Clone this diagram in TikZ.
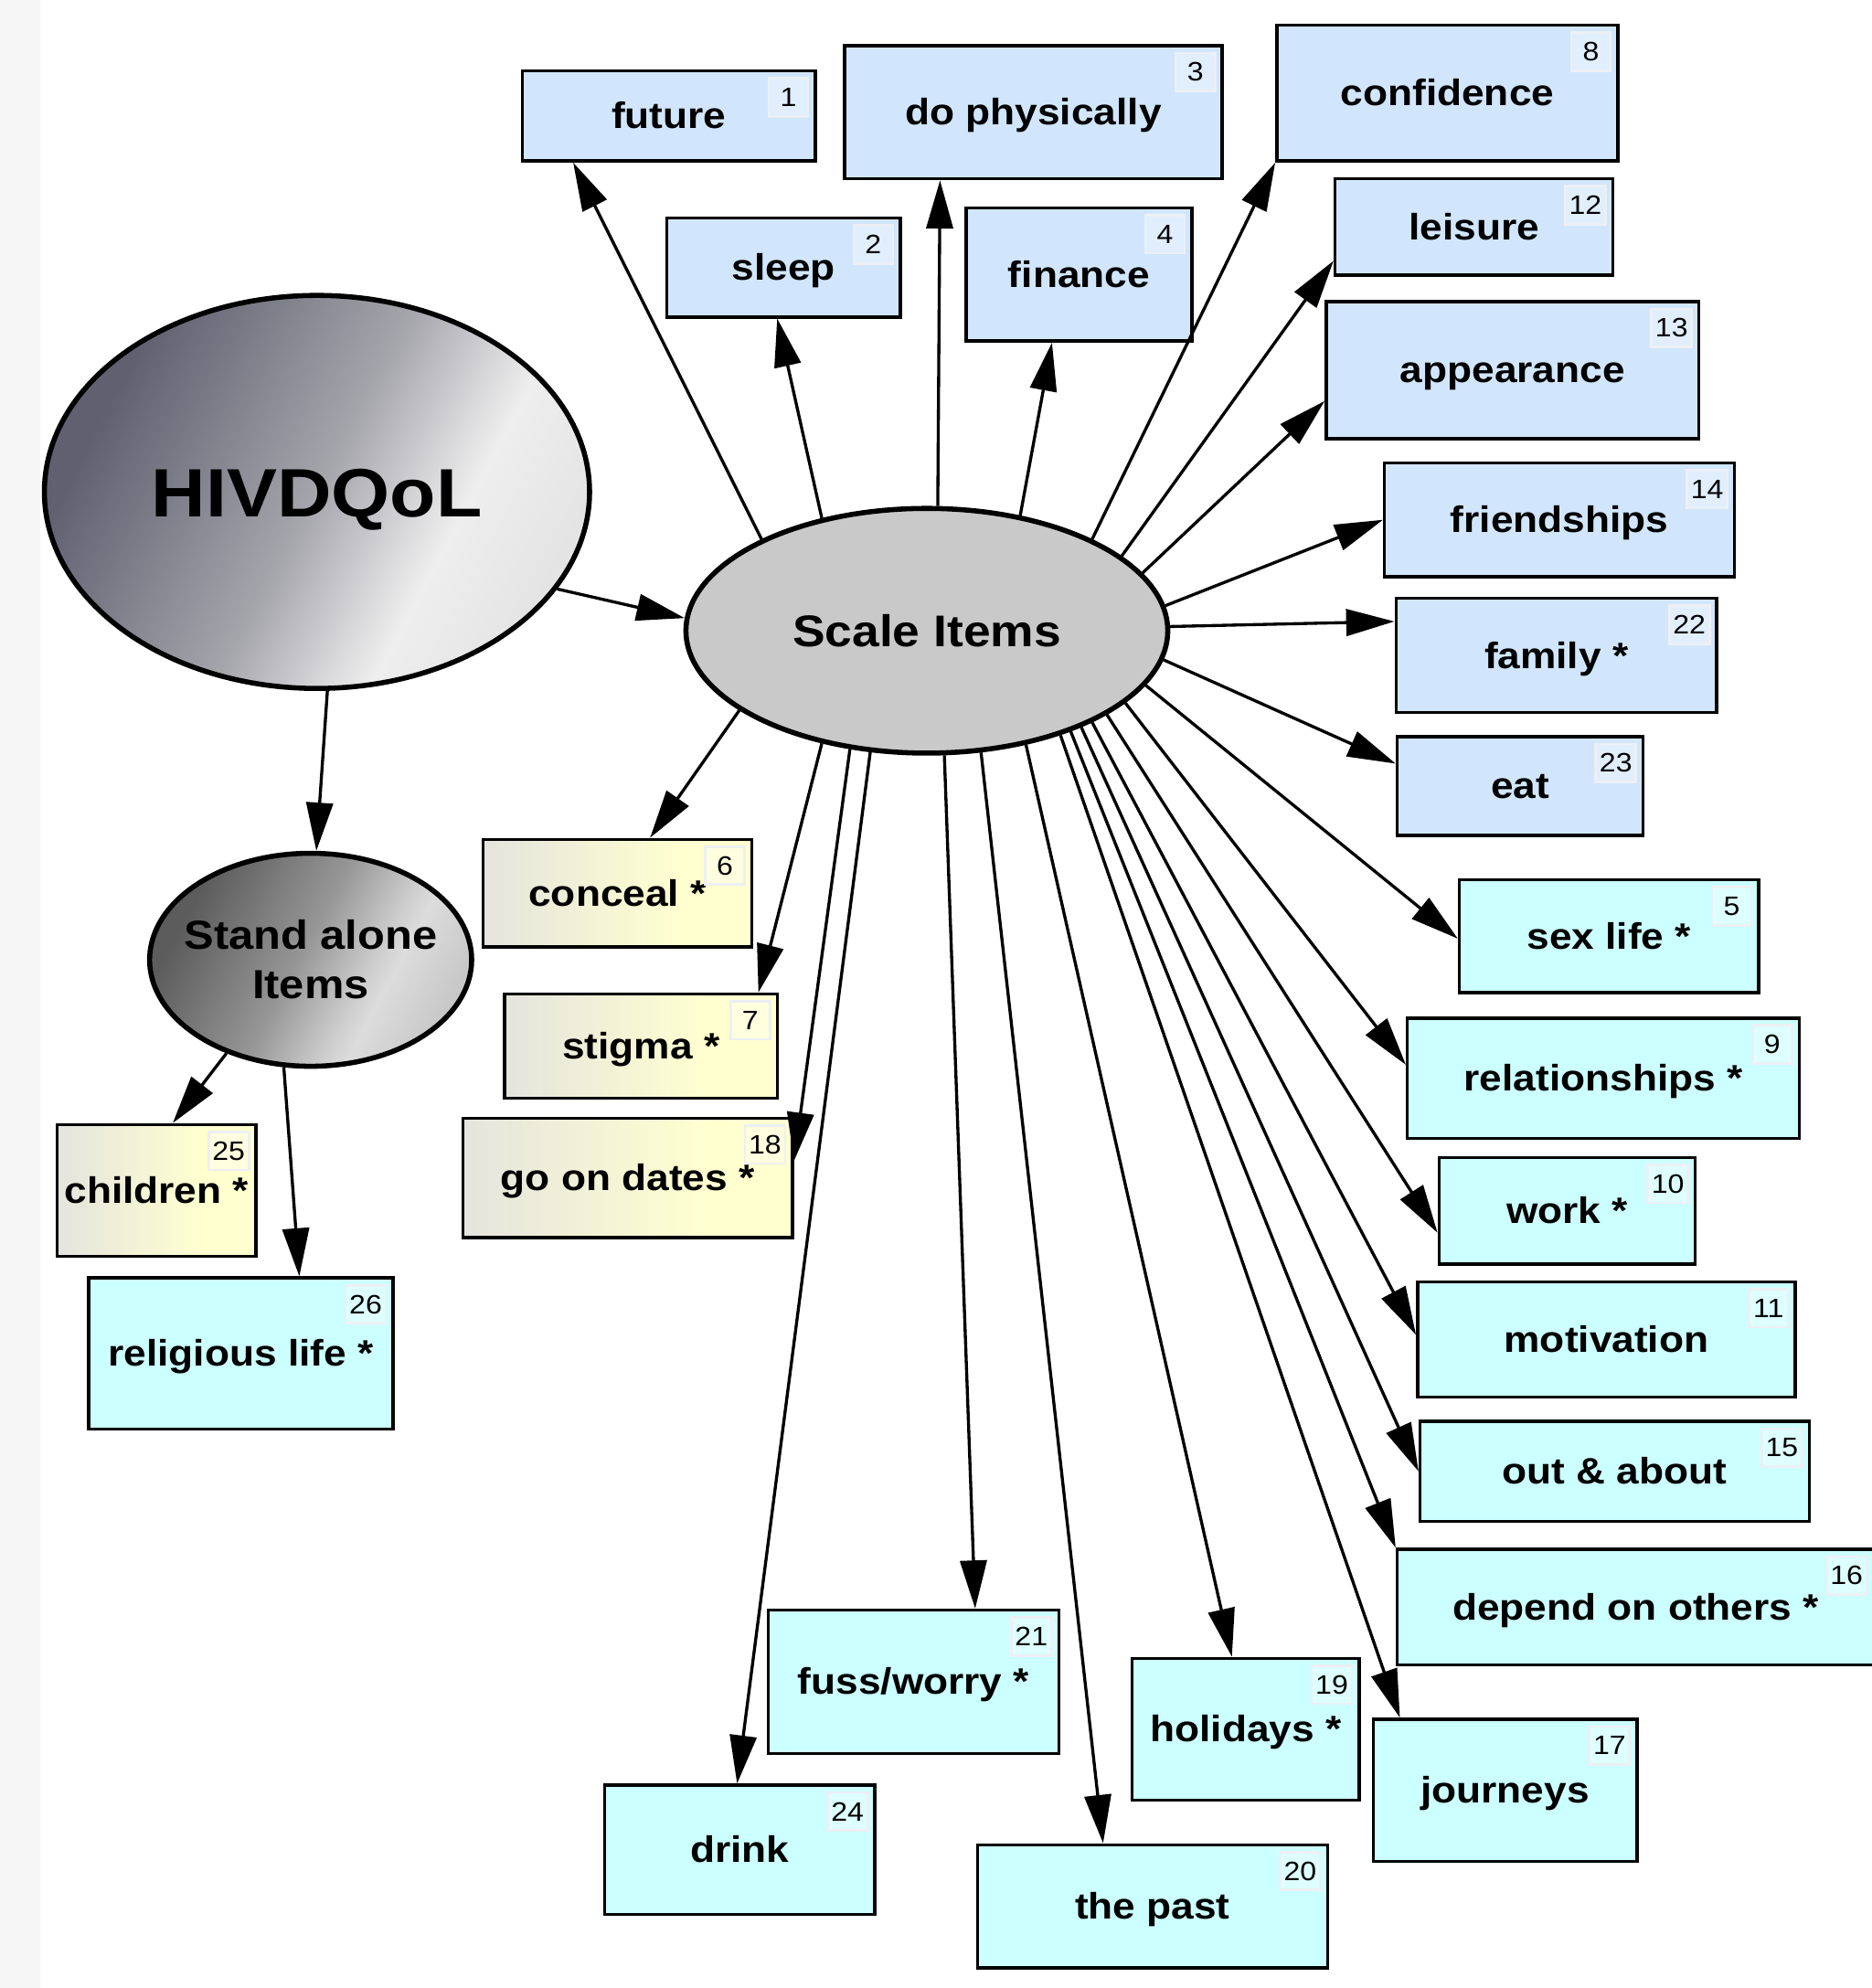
\documentclass[tikz,border=0pt]{standalone}
\usepackage{fontspec}
\setmainfont{Liberation Sans}[FakeStretch=1.1]
\usetikzlibrary{arrows.meta,calc,shapes.geometric}
\definecolor{bluebox}{RGB}{209,230,252}
\definecolor{cyanbox}{RGB}{204,255,255}
\definecolor{taged}{RGB}{236,240,244}
\definecolor{yA}{RGB}{228,228,222}
\definecolor{yB}{RGB}{255,255,208}
\definecolor{hA}{RGB}{96,96,112}
\definecolor{hB}{RGB}{165,165,172}
\definecolor{hBC}{RGB}{218,218,220}
\definecolor{hC}{RGB}{238,238,238}
\definecolor{hD}{RGB}{228,228,228}
\definecolor{sA}{RGB}{92,92,92}
\definecolor{sB}{RGB}{150,150,150}
\definecolor{sBC}{RGB}{205,205,205}
\definecolor{sC}{RGB}{220,220,220}
\definecolor{sD}{RGB}{200,200,200}
\definecolor{siFill}{RGB}{201,201,201}
\definecolor{stripcol}{RGB}{245,245,245}
\pgfdeclarehorizontalshading{hivshade}{100bp}{color(0bp)=(hA); color(27bp)=(hA); color(50bp)=(hB); color(60bp)=(hBC); color(64bp)=(hC); color(75bp)=(hD); color(100bp)=(hD)}
\pgfdeclarehorizontalshading{sashade}{100bp}{color(0bp)=(sA); color(27bp)=(sA); color(48bp)=(sB); color(60bp)=(sBC); color(64bp)=(sC); color(75bp)=(sD); color(100bp)=(sD)}
\pgfdeclarehorizontalshading{yelshade}{100bp}{color(0bp)=(yA); color(25bp)=(yA); color(62bp)=(yB); color(100bp)=(yB)}
\tikzset{
  box/.style={draw=black, line width=2.5pt, inner sep=0pt, align=center,
    font=\bfseries\fontsize{29}{32}\selectfont, text height=25pt, text depth=5pt},
  bluebx/.style={box, fill=bluebox},
  cyanbx/.style={box, fill=cyanbox},
  yelbx/.style={box, shade, shading=yelshade, shading angle=0},
  tagbx/.style={draw=taged, line width=2pt, fill=white, fill opacity=0.35, text opacity=1,
    anchor=north east, minimum width=31pt, minimum height=30pt, inner sep=3pt,
    font=\fontsize{21}{23}\selectfont},
  arr/.style={line width=2.4pt, -{Triangle[length=38pt,width=21pt]}},
  ell/.style={ellipse, draw=black, line width=4pt, inner sep=0pt, align=center},
}
\newcommand\ibox[8]{%
  \node[#2, minimum width=#5pt, minimum height=#6pt] (#1) at (#3,#4) {#7};
  \node[tagbx] (#1t) at ([xshift=-6pt,yshift=-6pt]#1.north east) {#8};}
\begin{document}
\begin{tikzpicture}[x=1pt,y=-1pt]
\useasboundingbox (0,0) rectangle (1476,1568);
\fill[stripcol] (0,0) rectangle (32,1568);

% ellipses
\node[ell, shade, shading=hivshade, shading angle=-28, minimum width=430pt, minimum height=310pt,
  font=\bfseries\fontsize{54}{60}\selectfont, text height=39pt, text depth=0pt] (hiv) at (250,388) {HIVDQoL};
\node[ell, fill=siFill, minimum width=380pt, minimum height=193pt,
  font=\bfseries\fontsize{35}{40}\selectfont, text height=25pt, text depth=0pt] (si) at (731,497.5) {Scale Items};
\node[ell, shade, shading=sashade, shading angle=-28, minimum width=254pt, minimum height=168pt] (sa) at (245,757) {};
\node[align=center, inner sep=0pt, font=\bfseries\fontsize{32}{39}\selectfont] (satext) at (sa.center) {Stand alone\\Items};

% boxes
\ibox{b1}{bluebx}{527.5}{91.5}{231}{71}{future}{1}
\ibox{b2}{bluebx}{618}{211}{184}{78}{sleep}{2}
\ibox{b3}{bluebx}{815}{88.5}{298}{105}{do physically}{3}
\ibox{b4}{bluebx}{851}{216.5}{178}{105}{finance}{4}
\ibox{b8}{bluebx}{1141.5}{73.5}{269}{107}{confidence}{8}
\ibox{b12}{bluebx}{1162.5}{179}{219}{76}{leisure}{12}
\ibox{b13}{bluebx}{1193}{292}{294}{108}{appearance}{13}
\ibox{b14}{bluebx}{1230}{410}{276}{90}{friendships}{14}
\ibox{b22}{bluebx}{1227.5}{517}{253}{90}{family *}{22}
\ibox{b23}{bluebx}{1199}{620}{194}{78}{eat}{23}
\ibox{b5}{cyanbx}{1269}{738.5}{236}{89}{sex life *}{5}
\ibox{b9}{cyanbx}{1264.5}{850.5}{309}{95}{relationships *}{9}
\ibox{b10}{cyanbx}{1236}{955}{202}{84}{work *}{10}
\ibox{b11}{cyanbx}{1267}{1056.5}{298}{91}{motivation}{11}
\ibox{b15}{cyanbx}{1273.5}{1160.5}{307}{79}{out \& about}{15}
\ibox{b16}{cyanbx}{1290}{1267.5}{376}{91}{depend on others *}{16}
\ibox{b17}{cyanbx}{1187}{1412}{208}{112}{journeys}{17}
\ibox{b19}{cyanbx}{982.5}{1364}{179}{112}{holidays *}{19}
\ibox{b20}{cyanbx}{909}{1503.5}{276}{97}{the past}{20}
\ibox{b21}{cyanbx}{720.5}{1326.5}{229}{113}{fuss/worry *}{21}
\ibox{b24}{cyanbx}{583.5}{1459}{213}{102}{drink}{24}
\ibox{b6}{yelbx}{487}{704.5}{212}{85}{conceal *}{6}
\ibox{b7}{yelbx}{505.5}{825}{215}{82}{stigma *}{7}
\ibox{b18}{yelbx}{495}{929}{260}{94}{go on dates *}{18}
\ibox{b25}{yelbx}{123.5}{939}{157}{104}{children *}{25}
\ibox{b26}{cyanbx}{190}{1067.5}{240}{119}{religious life *}{26}

% connectors
\draw[arr] (hiv.-22) -- (si.177);
\draw[arr] (hiv.-87) -- (sa.87);
\draw[arr] (sa.228) -- ($(b25.north west)!0.58!(b25.north east)$);
\draw[arr] (sa.256) -- ($(b26.north west)!0.69!(b26.north east)$);

\draw[arr] (si.151) -- ($(b1.south west)!0.177!(b1.south east)$);
\draw[arr] (si.133) -- ($(b2.south west)!0.473!(b2.south east)$);
\draw[arr] (si.85) -- ($(b3.south west)!0.255!(b3.south east)$);
\draw[arr] (si.51) -- ($(b4.south west)!0.382!(b4.south east)$);
\draw[arr] (si.29) -- (b8.south west);
\draw[arr] (si.21) -- ($(b12.north west)!0.84!(b12.south west)$);
\draw[arr] (si.15) -- ($(b13.north west)!0.72!(b13.south west)$);
\draw[arr] (si.6) -- (b14.west);
\draw[arr] (si.1) -- ($(b22.north west)!0.21!(b22.south west)$);
\draw[arr] (si.-7) -- ($(b23.north west)!0.28!(b23.south west)$);
\draw[arr] (si.-14) -- ($(b5.north west)!0.52!(b5.south west)$);
\draw[arr] (si.-20) -- ($(b9.north west)!0.39!(b9.south west)$);
\draw[arr] (si.-25) -- ($(b10.north west)!0.70!(b10.south west)$);
\draw[arr] (si.-29) -- ($(b11.north west)!0.46!(b11.south west)$);
\draw[arr] (si.-32) -- ($(b15.north west)!0.50!(b15.south west)$);
\draw[arr] (si.-35) -- (b16.north west);
\draw[arr] (si.-38) -- ($(b17.north west)!0.106!(b17.north east)$);
\draw[arr] (si.-49) -- ($(b19.north west)!0.44!(b19.north east)$);
\draw[arr] (si.-66) -- ($(b20.north west)!0.36!(b20.north east)$);
\draw[arr] (si.-82) -- ($(b21.north west)!0.71!(b21.north east)$);
\draw[arr] (si.245) -- ($(b24.north west)!0.49!(b24.north east)$);
\draw[arr] (si.237) -- ($(b18.north east)!0.36!(b18.south east)$);
\draw[arr] (si.227) -- ($(b7.north west)!0.926!(b7.north east)$);
\draw[arr] (si.203) -- ($(b6.north west)!0.62!(b6.north east)$);
\end{tikzpicture}
\end{document}
